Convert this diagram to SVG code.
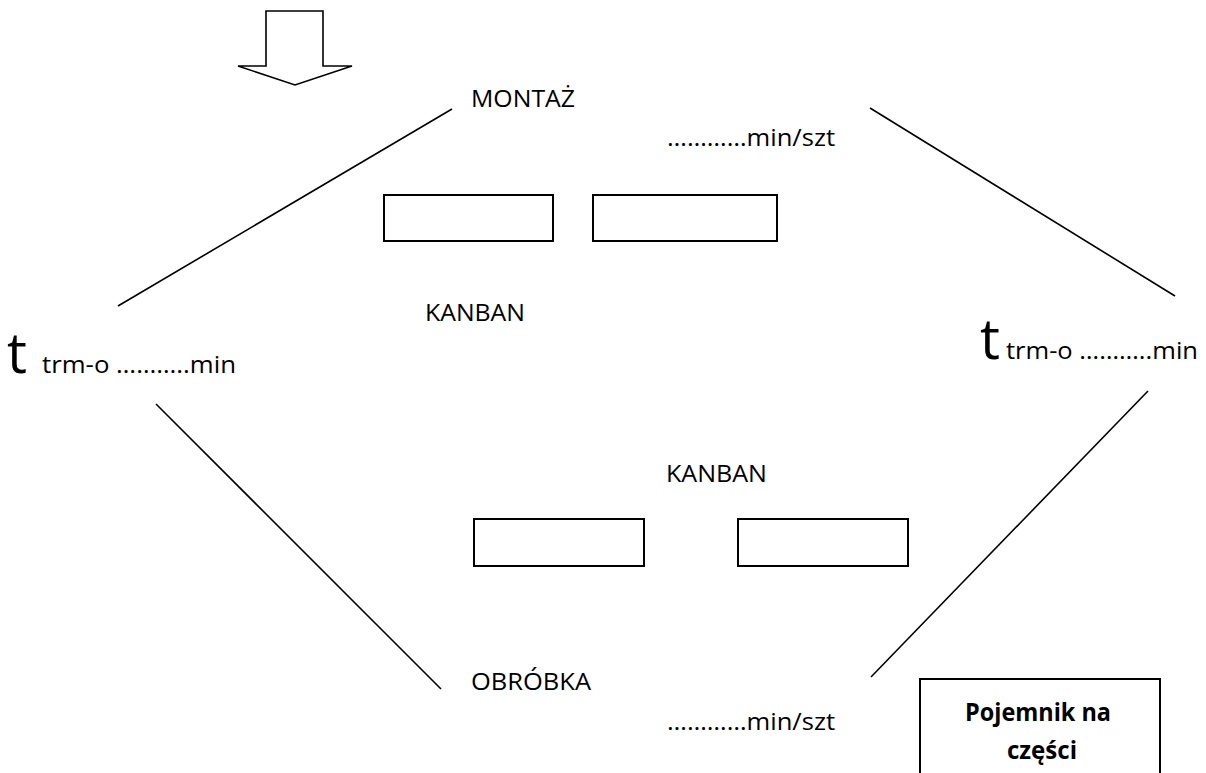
<svg xmlns="http://www.w3.org/2000/svg" width="1206" height="773" viewBox="0 0 1206 773">
<style>
text{font-family:"Open Sans","Noto Sans","Liberation Sans",sans-serif;fill:#000}
.t{font-size:24px}
.big{font-size:56px}
.b{font-size:25px;font-weight:bold}
.box{fill:#fff;stroke:#000;stroke-width:2}
.ln{stroke:#000;stroke-width:1.6;fill:none}
</style>
<rect width="1206" height="773" fill="#fff"/>
<g id="arrow">
<path d="M266,11 H323 V66 H352 L295,85 L238,66 H266 Z" fill="#fff" stroke="#000" stroke-width="1.6"/>
</g>
<g id="connectors">
<line class="ln" x1="118" y1="306" x2="452" y2="109"/>
<line class="ln" x1="870" y1="108" x2="1175" y2="296"/>
<line class="ln" x1="156" y1="404" x2="441" y2="689"/>
<line class="ln" x1="1148" y1="391" x2="871" y2="677"/>
</g>
<g id="montaz">
<text class="t" x="471" y="107" textLength="104" lengthAdjust="spacingAndGlyphs">MONTAŻ</text>
<text class="t" x="667" y="146" textLength="168" lengthAdjust="spacingAndGlyphs">…………min/szt</text>
</g>
<g id="kanban-top">
<rect class="box" x="384" y="195" width="169" height="46"/>
<rect class="box" x="593" y="195" width="184" height="46"/>
<text class="t" x="425" y="321" textLength="100" lengthAdjust="spacingAndGlyphs">KANBAN</text>
</g>
<g id="trm-left">
<text class="big" x="7" y="373">t</text>
<text class="t" x="42" y="373" textLength="194" lengthAdjust="spacingAndGlyphs">trm-o ………..min</text>
</g>
<g id="trm-right">
<text class="big" x="980" y="359">t</text>
<text class="t" x="1006" y="359" textLength="192" lengthAdjust="spacingAndGlyphs">trm-o ………..min</text>
</g>
<g id="kanban-bottom">
<text class="t" x="666" y="482" textLength="101" lengthAdjust="spacingAndGlyphs">KANBAN</text>
<rect class="box" x="474" y="519" width="170" height="47"/>
<rect class="box" x="738" y="519" width="170" height="47"/>
</g>
<g id="obrobka">
<text class="t" x="471" y="690" textLength="120" lengthAdjust="spacingAndGlyphs">OBRÓBKA</text>
<text class="t" x="667" y="730" textLength="168" lengthAdjust="spacingAndGlyphs">…………min/szt</text>
</g>
<g id="pojemnik">
<path d="M920,775 V679 H1160 V775" fill="#fff" stroke="#000" stroke-width="2"/>
<text class="b" x="965" y="721" textLength="146" lengthAdjust="spacingAndGlyphs">Pojemnik na</text>
<text class="b" x="1007" y="759" textLength="70" lengthAdjust="spacingAndGlyphs">części</text>
</g>
</svg>
